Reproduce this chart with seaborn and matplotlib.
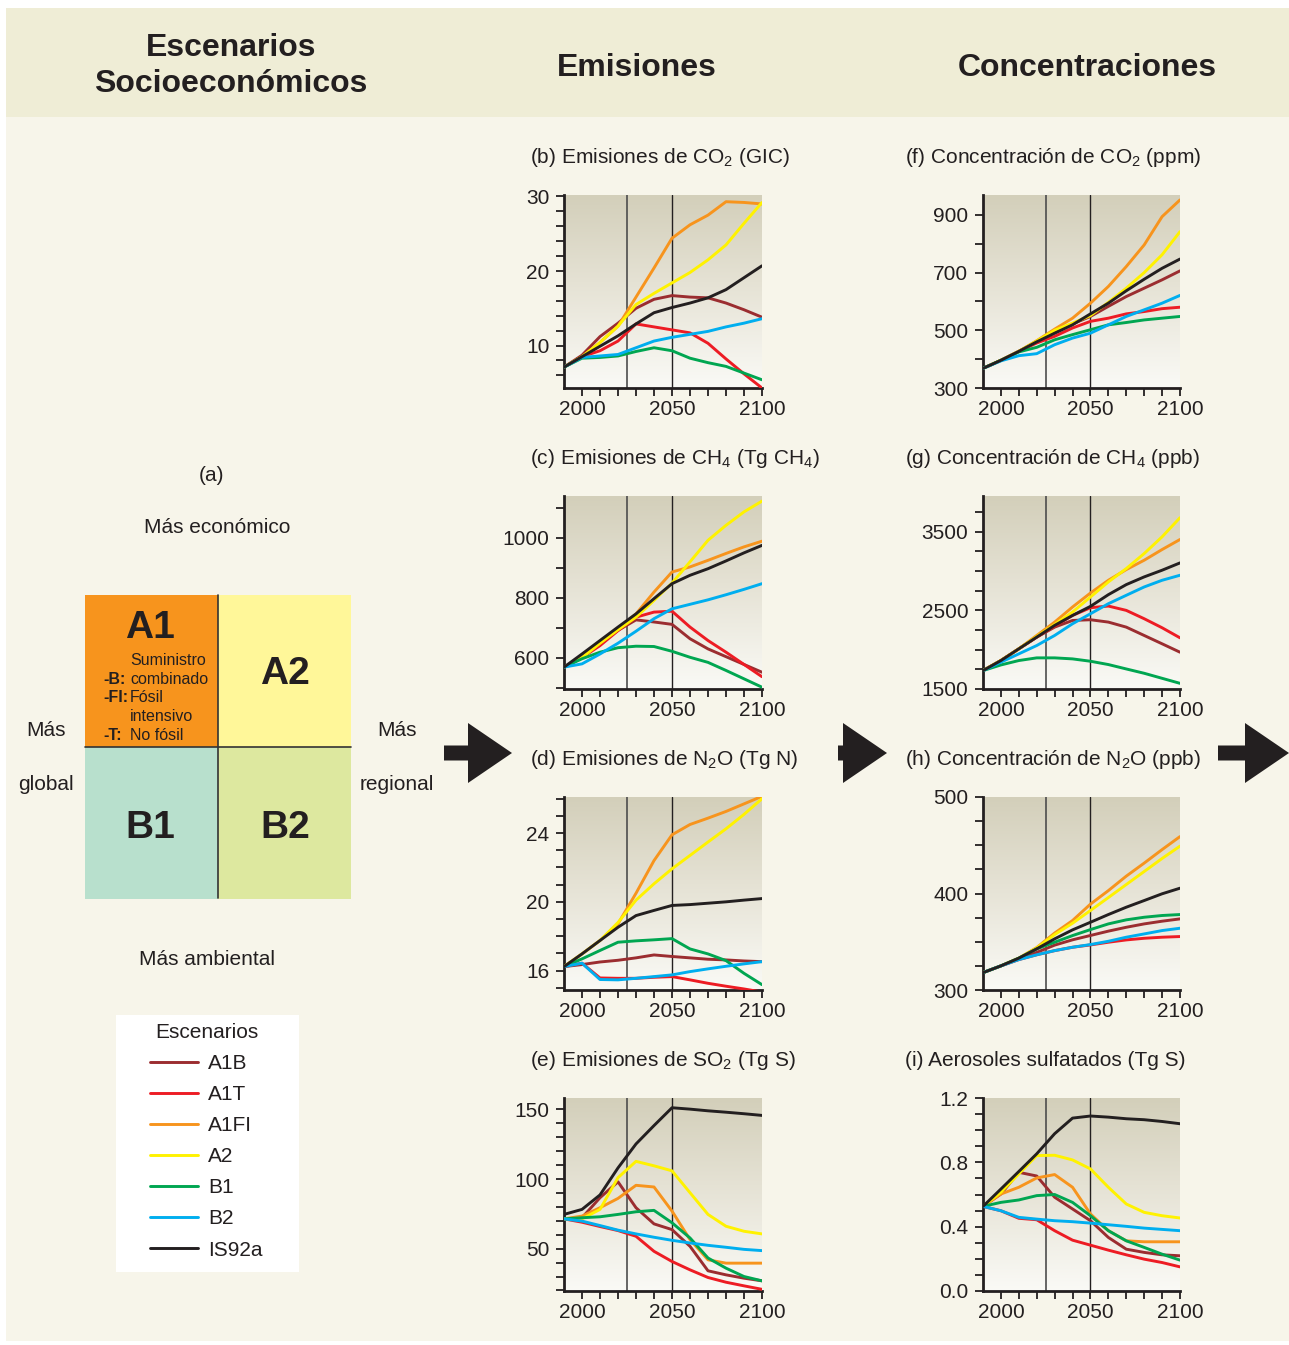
import matplotlib

matplotlib.use("Agg")

import matplotlib.pyplot as plt
import numpy as np
import pandas as pd
import seaborn as sns
from matplotlib.colors import LinearSegmentedColormap
from matplotlib.lines import Line2D
from matplotlib.patches import FancyArrow, Rectangle
from matplotlib.ticker import FixedLocator, FormatStrFormatter, MultipleLocator

W, H = 1289, 1345
INK = "#231F20"
DY = 2.5  # small baseline nudge for centred text

YEARS = [1990, 2000, 2010, 2020, 2030, 2040, 2050, 2060, 2070, 2080, 2090, 2100]
SCENARIOS = ["A1B", "A1T", "A1FI", "A2", "B1", "B2", "IS92a"]
COLORS = {
    "A1B": "#9B2D30",
    "A1T": "#ED1C24",
    "A1FI": "#F7941D",
    "A2": "#FFF200",
    "B1": "#00A651",
    "B2": "#00AEEF",
    "IS92a": "#231F20",
}

# (b) CO2 emissions, GtC
CO2_EMIS = {
    "A1B": [7.1, 8.7, 11.2, 13.0, 15.0, 16.2, 16.7, 16.5, 16.4, 15.7, 14.8, 13.8],
    "A1T": [7.1, 8.5, 9.3, 10.6, 12.9, 12.5, 12.1, 11.7, 10.3, 8.2, 6.2, 4.3],
    "A1FI": [7.1, 8.5, 10.4, 12.6, 16.5, 20.4, 24.4, 26.2, 27.5, 29.3, 29.2, 29.0],
    "A2": [7.1, 8.5, 10.4, 12.6, 15.5, 17.0, 18.4, 19.8, 21.5, 23.5, 26.4, 29.2],
    "B1": [7.1, 8.3, 8.4, 8.6, 9.2, 9.7, 9.3, 8.3, 7.7, 7.2, 6.3, 5.4],
    "B2": [7.1, 8.4, 8.6, 8.8, 9.7, 10.6, 11.1, 11.5, 11.9, 12.5, 13.0, 13.6],
    "IS92a": [7.1, 8.5, 9.9, 11.3, 12.9, 14.4, 15.1, 15.7, 16.4, 17.5, 19.1, 20.7],
}

# (c) CH4 emissions, Tg CH4
CH4_EMIS = {
    "A1B": [568, 601, 646, 691, 726, 719, 711, 663, 629, 603, 577, 551],
    "A1T": [568, 600, 640, 690, 735, 752, 755, 702, 657, 618, 577, 536],
    "A1FI": [568, 600, 648, 696, 746, 819, 886, 903, 925, 948, 970, 989],
    "A2": [568, 600, 648, 693, 735, 791, 849, 920, 992, 1042, 1087, 1123],
    "B1": [568, 596, 618, 633, 638, 637, 621, 601, 584, 557, 529, 501],
    "B2": [568, 579, 612, 648, 688, 730, 763, 778, 793, 810, 828, 847],
    "IS92a": [568, 612, 657, 702, 746, 797, 847, 875, 897, 923, 950, 975],
}

# (d) N2O emissions, Tg N
N2O_EMIS = {
    "A1B": [16.23, 16.35, 16.5, 16.6, 16.74, 16.91, 16.82, 16.74, 16.66, 16.62, 16.56, 16.52],
    "A1T": [16.23, 16.43, 15.57, 15.55, 15.55, 15.61, 15.65, 15.46, 15.26, 15.09, 14.93, 14.75],
    "A1FI": [16.23, 16.97, 17.75, 18.72, 20.5, 22.4, 23.9, 24.5, 24.87, 25.26, 25.7, 26.14],
    "A2": [16.23, 16.97, 17.75, 18.8, 20.1, 21.05, 21.92, 22.7, 23.48, 24.25, 25.09, 26.0],
    "B1": [16.23, 16.68, 17.17, 17.65, 17.73, 17.79, 17.86, 17.26, 16.97, 16.58, 15.84, 15.18],
    "B2": [16.23, 16.43, 15.48, 15.46, 15.55, 15.65, 15.75, 15.94, 16.1, 16.25, 16.39, 16.52],
    "IS92a": [16.23, 16.97, 17.75, 18.52, 19.2, 19.5, 19.79, 19.84, 19.92, 20.0, 20.1, 20.19],
}

# (e) SO2 emissions, Tg S
SO2_EMIS = {
    "A1B": [71.4, 72.2, 86.6, 98.0, 79.4, 67.8, 63.7, 51.7, 34.1, 31.2, 28.8, 26.9],
    "A1T": [71.4, 69.0, 65.9, 63.0, 58.9, 48.1, 40.8, 34.8, 29.3, 25.9, 23.3, 20.8],
    "A1FI": [71.4, 73.4, 79.4, 86.1, 95.5, 94.3, 77.0, 56.5, 42.0, 39.6, 39.6, 39.6],
    "A2": [71.4, 71.4, 78.2, 101.0, 112.7, 109.5, 105.9, 90.2, 74.6, 66.1, 62.5, 60.6],
    "B1": [71.4, 72.2, 72.9, 74.6, 76.5, 77.5, 68.6, 57.7, 43.3, 36.0, 30.0, 26.9],
    "B2": [71.4, 69.8, 66.6, 63.3, 60.6, 58.2, 56.0, 54.1, 52.4, 51.0, 49.5, 48.6],
    "IS92a": [74.6, 78.2, 88.6, 108.0, 125.2, 138.4, 151.2, 150.2, 149.0, 148.0, 146.9, 145.7],
}

# (f) CO2 concentration, ppm
CO2_CONC = {
    "A1B": [368, 396, 427, 461, 496, 522, 548, 583, 617, 646, 675, 706],
    "A1T": [368, 396, 427, 456, 479, 508, 531, 542, 557, 565, 575, 580],
    "A1FI": [368, 396, 427, 464, 504, 542, 594, 652, 721, 796, 894, 952],
    "A2": [368, 396, 427, 463, 500, 525, 551, 597, 646, 700, 762, 842],
    "B1": [368, 396, 425, 441, 467, 485, 502, 519, 527, 536, 542, 548],
    "B2": [368, 394, 412, 419, 450, 473, 490, 519, 548, 571, 594, 621],
    "IS92a": [368, 396, 427, 460, 490, 519, 557, 594, 637, 677, 715, 747],
}

# (g) CH4 concentration, ppb
CH4_CONC = {
    "A1B": [1734, 1862, 2011, 2160, 2287, 2372, 2381, 2351, 2287, 2181, 2075, 1968],
    "A1T": [1734, 1862, 2011, 2160, 2300, 2436, 2534, 2555, 2500, 2394, 2279, 2151],
    "A1FI": [1734, 1862, 2011, 2181, 2351, 2543, 2721, 2883, 3019, 3138, 3274, 3402],
    "A2": [1734, 1862, 2011, 2168, 2321, 2479, 2670, 2862, 3032, 3223, 3436, 3679],
    "B1": [1734, 1806, 1862, 1896, 1896, 1883, 1853, 1811, 1755, 1700, 1636, 1572],
    "B2": [1734, 1841, 1947, 2053, 2181, 2330, 2457, 2585, 2692, 2798, 2883, 2947],
    "IS92a": [1734, 1862, 2011, 2160, 2309, 2436, 2551, 2700, 2828, 2926, 3011, 3104],
}

# (h) N2O concentration, ppb
N2O_CONC = {
    "A1B": [318, 325, 332, 339, 346.5, 352, 356.5, 361, 365, 368.5, 371.3, 373.7],
    "A1T": [318, 325, 331.5, 336.5, 340.8, 344.3, 346.7, 349.5, 351.9, 353.6, 354.7, 355.4],
    "A1FI": [318, 325, 333, 344, 359, 372, 389, 403, 418, 431.5, 445.5, 459],
    "A2": [318, 325, 333, 343.6, 357.4, 369.2, 382.4, 395.8, 409.3, 422.8, 436.3, 449.1],
    "B1": [318, 325, 333, 342.6, 349.5, 356.4, 362.6, 368.5, 372.7, 375.4, 377.2, 378.2],
    "B2": [318, 325, 331.5, 336.5, 340.8, 344.3, 347.1, 350.5, 354.7, 358.1, 361.6, 364],
    "IS92a": [318, 325, 333, 342.6, 353, 362.3, 370.2, 378.2, 385.8, 392.7, 399.7, 405.5],
}

# (i) sulphate aerosols, Tg S
SULFATE = {
    "A1B": [0.526, 0.603, 0.738, 0.715, 0.583, 0.51, 0.437, 0.333, 0.26, 0.24, 0.225, 0.219],
    "A1T": [0.526, 0.499, 0.452, 0.443, 0.375, 0.316, 0.285, 0.254, 0.225, 0.198, 0.177, 0.15],
    "A1FI": [0.526, 0.603, 0.645, 0.703, 0.724, 0.645, 0.479, 0.375, 0.312, 0.306, 0.306, 0.306],
    "A2": [0.526, 0.614, 0.728, 0.842, 0.844, 0.815, 0.759, 0.645, 0.541, 0.489, 0.468, 0.454],
    "B1": [0.526, 0.551, 0.566, 0.593, 0.6, 0.551, 0.468, 0.375, 0.312, 0.271, 0.229, 0.192],
    "B2": [0.526, 0.499, 0.458, 0.447, 0.437, 0.431, 0.422, 0.412, 0.402, 0.391, 0.383, 0.375],
    "IS92a": [0.526, 0.634, 0.743, 0.853, 0.978, 1.075, 1.088, 1.081, 1.071, 1.065, 1.054, 1.04],
}

BG_CMAP = LinearSegmentedColormap.from_list("panel", ["#D3CFBA", "#E7E4D7", "#FAFAF6"])
GRAD = np.linspace(0, 1, 256).reshape(-1, 1)


def setup() -> None:
    sns.set_theme(style="ticks")
    plt.rcParams["font.family"] = ["Liberation Sans", "DejaVu Sans"]
    plt.rcParams["mathtext.default"] = "regular"
    plt.rcParams["text.color"] = INK


def long_frame(series: dict) -> pd.DataFrame:
    rows = []
    for name in SCENARIOS:
        for year, value in zip(YEARS, series[name]):
            rows.append({"year": year, "scenario": name, "value": value})
    return pd.DataFrame(rows)


def px_axes(fig, left, top, right, bottom, **kw):
    return fig.add_axes([left / W, 1 - bottom / H, (right - left) / W, (bottom - top) / H], **kw)


def label(bg, x, y, text, **kw):
    kw.setdefault("ha", "center")
    kw.setdefault("fontsize", 15)
    return bg.text(x, y + DY, text, va="center", **kw)


def draw_panel(fig, bg, rect, title, title_x, series, ylim, yticks, yminor, fmt) -> None:
    left, top, right, bottom = rect
    ax = px_axes(fig, left, top, right, bottom, zorder=2)
    ax.set_facecolor("none")
    ax.imshow(GRAD, cmap=BG_CMAP, extent=[0, 1, 0, 1], transform=ax.transAxes,
              aspect="auto", zorder=0, interpolation="bilinear")
    ax.axvline(2025, color="#4D4D4D", lw=1.2, zorder=1)
    ax.axvline(2050, color=INK, lw=1.0, zorder=1)
    sns.lineplot(data=long_frame(series), x="year", y="value", hue="scenario",
                 hue_order=SCENARIOS, palette=COLORS, estimator=None, lw=2.1,
                 legend=False, ax=ax, zorder=3)
    ax.set(xlabel="", ylabel="", xlim=(1990, 2100), ylim=ylim)
    ax.xaxis.set_major_locator(FixedLocator([2000, 2050, 2100]))
    ax.xaxis.set_minor_locator(FixedLocator(list(range(2010, 2100, 10))))
    ax.yaxis.set_major_locator(FixedLocator(yticks))
    ax.yaxis.set_minor_locator(MultipleLocator(yminor))
    ax.yaxis.set_major_formatter(FormatStrFormatter(fmt))
    for side in ("top", "right"):
        ax.spines[side].set_visible(False)
    for side in ("left", "bottom"):
        ax.spines[side].set_linewidth(2.0)
        ax.spines[side].set_color(INK)
    ax.tick_params(which="both", direction="out", length=5.5, width=1.3, color=INK,
                   labelsize=15, labelcolor=INK)
    ax.tick_params(axis="y", which="both", pad=5)
    ax.tick_params(axis="x", which="both", pad=3)
    label(bg, title_x, top - 40, title, ha="left")


def draw_left(bg) -> None:
    label(bg, 212, 473, "(a)")
    label(bg, 217, 525, "Más económico")
    label(bg, 207, 957, "Más ambiental")
    label(bg, 46, 728, "Más")
    label(bg, 46, 782, "global")
    label(bg, 397, 728, "Más")
    label(bg, 397, 782, "regional")

    quads = [(85, 595, "#F7941D"), (218, 595, "#FFF799"), (85, 747, "#B8E0CD"), (218, 747, "#DDE89F")]
    for x, y, c in quads:
        bg.add_patch(Rectangle((x, y), 133, 152, facecolor=c, edgecolor="none"))
    bg.plot([218, 218], [595, 898], color="#333333", lw=1.2)
    bg.plot([85, 351], [747, 747], color="#333333", lw=1.2)

    label(bg, 150, 625, "A1", fontsize=28, fontweight="bold")
    label(bg, 285, 672, "A2", fontsize=28, fontweight="bold")
    label(bg, 150, 825, "B1", fontsize=28, fontweight="bold")
    label(bg, 285, 825, "B2", fontsize=28, fontweight="bold")

    notes = [
        (658, "", "Suministro"),
        (677, "-B:", "combinado"),
        (695, "-FI:", "Fósil"),
        (714, "", "intensivo"),
        (733, "-T:", "No fósil"),
    ]
    for y, key, text in notes:
        if key:
            label(bg, 103, y, key, ha="left", fontsize=11.5, fontweight="bold")
        label(bg, 130, y, text, ha="left", fontsize=11.5)

    bg.add_patch(Rectangle((116, 1015), 183, 257, facecolor="white", edgecolor="none"))
    handles = [Line2D([], [], color=COLORS[s], lw=2.1) for s in SCENARIOS]
    leg = bg.legend(handles, SCENARIOS, title="Escenarios", loc="upper left",
                    bbox_to_anchor=(150, 1023), bbox_transform=bg.transData,
                    frameon=False, fontsize=15, title_fontsize=15, handlelength=2.3,
                    handletextpad=0.5, labelspacing=0.58, borderpad=0, borderaxespad=0)
    for txt in leg.get_texts():
        txt.set_color(INK)


def main() -> None:
    setup()
    fig = plt.figure(figsize=(W / 100, H / 100), dpi=100)
    fig.patch.set_facecolor("white")

    bg = fig.add_axes([0, 0, 1, 1], zorder=0)
    bg.set_xlim(0, W)
    bg.set_ylim(H, 0)
    bg.axis("off")
    bg.add_patch(Rectangle((6, 8), W - 6, 1333, facecolor="#F7F5EA", edgecolor="none"))
    bg.add_patch(Rectangle((6, 8), W - 6, 109, facecolor="#EFEDD6", edgecolor="none"))

    label(bg, 231, 45, "Escenarios", fontsize=23, fontweight="bold")
    label(bg, 231, 82, "Socioeconómicos", fontsize=23, fontweight="bold")
    label(bg, 637, 65, "Emisiones", fontsize=23, fontweight="bold")
    label(bg, 1087, 65, "Concentraciones", fontsize=23, fontweight="bold")

    for x0, length in [(444, 68), (838, 49), (1218, 71)]:
        bg.add_patch(FancyArrow(x0, 753, length, 0, width=15, head_width=60, head_length=44,
                                length_includes_head=True, color=INK, lw=0))

    draw_left(bg)

    rows = [195, 496, 797, 1098]
    em_x, co_x = (564, 762), (983, 1180)
    panels = [
        (em_x, 0, 530, "(b) Emisiones de CO$_2$ (GIC)", CO2_EMIS, (4.3, 30.2), [10, 20, 30], 2, "%g"),
        (em_x, 1, 530, "(c) Emisiones de CH$_4$ (Tg CH$_4$)", CH4_EMIS, (495, 1140), [600, 800, 1000], 100, "%g"),
        (em_x, 2, 530, "(d) Emisiones de N$_2$O (Tg N)", N2O_EMIS, (14.87, 26.1), [16, 20, 24], 1, "%g"),
        (em_x, 3, 530, "(e) Emisiones de SO$_2$ (Tg S)", SO2_EMIS, (19.6, 158.2), [50, 100, 150], 10, "%g"),
        (co_x, 0, 905, "(f) Concentración de CO$_2$ (ppm)", CO2_CONC, (300, 969), [300, 500, 700, 900], 100, "%g"),
        (co_x, 1, 905, "(g) Concentración de CH$_4$ (ppb)", CH4_CONC, (1500, 3955), [1500, 2500, 3500], 250, "%g"),
        (co_x, 2, 905, "(h) Concentración de N$_2$O (ppb)", N2O_CONC, (300, 500), [300, 400, 500], 25, "%g"),
        (co_x, 3, 905, "(i) Aerosoles sulfatados (Tg S)", SULFATE, (0, 1.2), [0.0, 0.4, 0.8, 1.2], 0.1, "%.1f"),
    ]
    for (x0, x1), r, tx, title, series, ylim, yticks, yminor, fmt in panels:
        rect = (x0, rows[r], x1, rows[r] + 193)
        draw_panel(fig, bg, rect, title, tx, series, ylim, yticks, yminor, fmt)

    fig.savefig("out.png", dpi=100, facecolor=fig.get_facecolor())
    plt.close(fig)


if __name__ == "__main__":
    main()
